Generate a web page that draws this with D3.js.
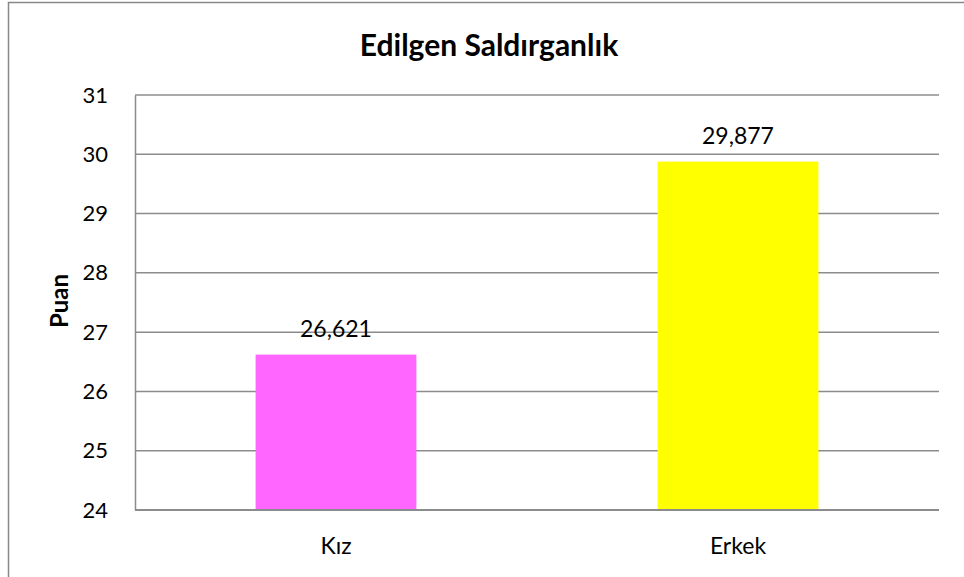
<!DOCTYPE html>
<html><head><meta charset="utf-8">
<script src="https://cdn.jsdelivr.net/npm/d3@7"></script>
<style>html,body{margin:0;padding:0;background:#fff;}svg{display:block;}</style>
</head><body>
<script>
const categories = ["Kız", "Erkek"];
const values = [26.621, 29.877];
const valueLabels = ["26,621", "29,877"];
const barColors = ["#FF66FF", "#FFFF00"];
const yTicks = [24, 25, 26, 27, 28, 29, 30, 31];
const title = "Edilgen Saldırganlık";
const yTitle = "Puan";

(function () {
const W = 964, H = 577;
const svg = d3.select("body").append("svg").attr("width", W).attr("height", H);
const font = "Lato, 'Open Sans', sans-serif";

svg.append("rect").attr("x", 8.5).attr("y", 2.5).attr("width", 980).attr("height", 600)
  .attr("fill", "#fff").attr("stroke", "#888").attr("stroke-width", 1.5);

const pLeft = 135, pRight = 939, pTop = 95, pBottom = 510;
const x = d3.scaleBand().domain(categories).range([pLeft, pRight]).paddingInner(0.6).paddingOuter(0.3);
const y = d3.scaleLinear().domain([24, 31]).range([pBottom, pTop]);

// gridlines
svg.append("g").selectAll("line").data(yTicks.filter(d => d !== 24)).join("line")
  .attr("x1", pLeft).attr("x2", pRight).attr("y1", d => y(d)).attr("y2", d => y(d))
  .attr("stroke", "#8c8c8c").attr("stroke-width", 1.5);

// bars
svg.append("g").selectAll("rect").data(values).join("rect")
  .attr("x", (d, i) => x(categories[i])).attr("width", x.bandwidth())
  .attr("y", d => y(d)).attr("height", d => y(24) - y(d))
  .attr("fill", (d, i) => barColors[i]);

// axes
const yAxis = svg.append("g").attr("transform", `translate(${pLeft},0)`)
  .call(d3.axisLeft(y).tickValues(yTicks).tickSize(0).tickPadding(27).tickFormat(d3.format("d")));
yAxis.select(".domain").attr("stroke", "#8c8c8c").attr("stroke-width", 1.5);
yAxis.selectAll("text").attr("font-family", font).attr("font-size", 22).attr("fill", "#000");

const xAxis = svg.append("g").attr("transform", `translate(0,${pBottom})`)
  .call(d3.axisBottom(x).tickSize(0));
xAxis.select(".domain").attr("stroke", "#8c8c8c").attr("stroke-width", 2).attr("d", `M${pLeft},0H${pRight}`);
xAxis.selectAll("text").attr("font-family", font).attr("font-size", 23).attr("fill", "#000")
  .attr("y", 44).attr("dy", 0);

// value labels
svg.append("g").selectAll("text").data(values).join("text")
  .attr("x", (d, i) => x(categories[i]) + x.bandwidth() / 2)
  .attr("y", d => y(d) - 18)
  .attr("text-anchor", "middle").attr("font-family", font).attr("font-size", 23).attr("fill", "#000")
  .text((d, i) => valueLabels[i]);

// title
svg.append("text").attr("x", 489).attr("y", 56).attr("text-anchor", "middle")
  .attr("font-family", font).attr("font-weight", "bold").attr("font-size", 30).attr("fill", "#000")
  .text(title);

// y title
svg.append("text").attr("transform", "translate(68,301) rotate(-90)").attr("text-anchor", "middle")
  .attr("font-family", font).attr("font-weight", "bold").attr("font-size", 24).attr("fill", "#000")
  .text(yTitle);
})();
</script>
</body></html>
